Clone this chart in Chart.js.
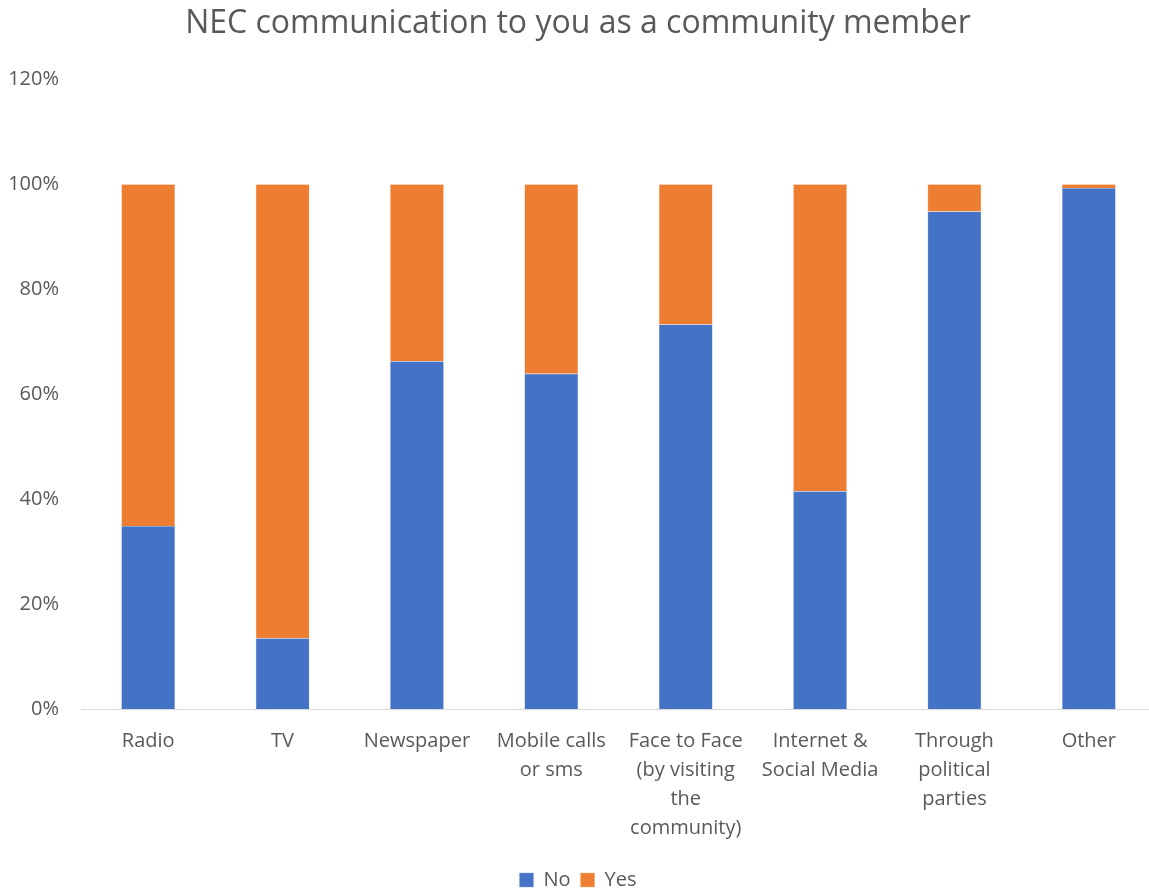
<!DOCTYPE html>
<html>
<head>
<meta charset="utf-8">
<script src="https://cdn.jsdelivr.net/npm/chart.js@4/dist/chart.umd.min.js"></script>
<style>
  html, body { margin: 0; padding: 0; background: #fff; overflow: hidden; }
  .wrapper { width: 1156px; height: 892px; }
</style>
</head>
<body>
<div class="wrapper"><canvas id="Chart" width="1156" height="892"></canvas></div>
<script>
const categories = [
  "Radio", "TV", "Newspaper", ["Mobile calls", "or sms"],
  ["Face to Face", "(by visiting", "the", "community)"],
  ["Internet &", "Social Media"], ["Through", "political", "parties"], "Other"
];
// share of respondents, in percent
const no_values  = [34.9, 13.5, 66.3, 63.9, 73.3, 41.5, 94.8, 99.3];
const yes_values = [65.1, 86.5, 33.7, 36.1, 26.7, 58.5, 5.2, 0.7];

const textColor = "#595959";
const fontFamily = "'Open Sans', sans-serif";

const ctx = document.getElementById("Chart");
const myChart = new Chart(ctx, {
  type: "bar",
  data: {
    labels: categories,
    datasets: [{
      label: "No",
      data: no_values,
      backgroundColor: "#4472c4",
      borderColor: "#8faadc",
      borderWidth: 0.5
    }, {
      label: "Yes",
      data: yes_values,
      backgroundColor: "#ed7d31",
      borderColor: "#f4b183",
      borderWidth: 0.5
    }]
  },
  options: {
    responsive: false,
    animation: false,
    barPercentage: 0.4,
    categoryPercentage: 1,
    layout: { padding: { top: 0, right: 0, bottom: -8, left: 0 } },
    plugins: {
      title: {
        display: true,
        text: "NEC communication to you as a community member",
        color: textColor,
        font: { family: fontFamily, size: 32, weight: "normal" },
        padding: { top: 5, bottom: 36 }
      },
      legend: {
        position: "bottom",
        labels: {
          color: textColor,
          font: { family: fontFamily, size: 20 },
          boxWidth: 14,
          boxHeight: 14,
          padding: 10
        }
      },
      tooltip: { enabled: false }
    },
    scales: {
      x: {
        stacked: true,
        grid: { display: false },
        border: { color: "#d9d9d9", width: 1 },
        afterFit: function(scale) { scale.height += 7; },
        ticks: {
          color: textColor,
          font: { family: fontFamily, size: 20, lineHeight: 1.45 },
          maxRotation: 0,
          padding: 10
        }
      },
      y: {
        stacked: true,
        min: 0,
        max: 120,
        grid: { display: false },
        border: { display: false },
        afterFit: function(scale) { scale.width = 81; },
        ticks: {
          stepSize: 20,
          color: textColor,
          padding: 14,
          font: { family: fontFamily, size: 20 },
          callback: function(v) { return v + "%"; }
        }
      }
    }
  }
});
</script>
</body>
</html>
